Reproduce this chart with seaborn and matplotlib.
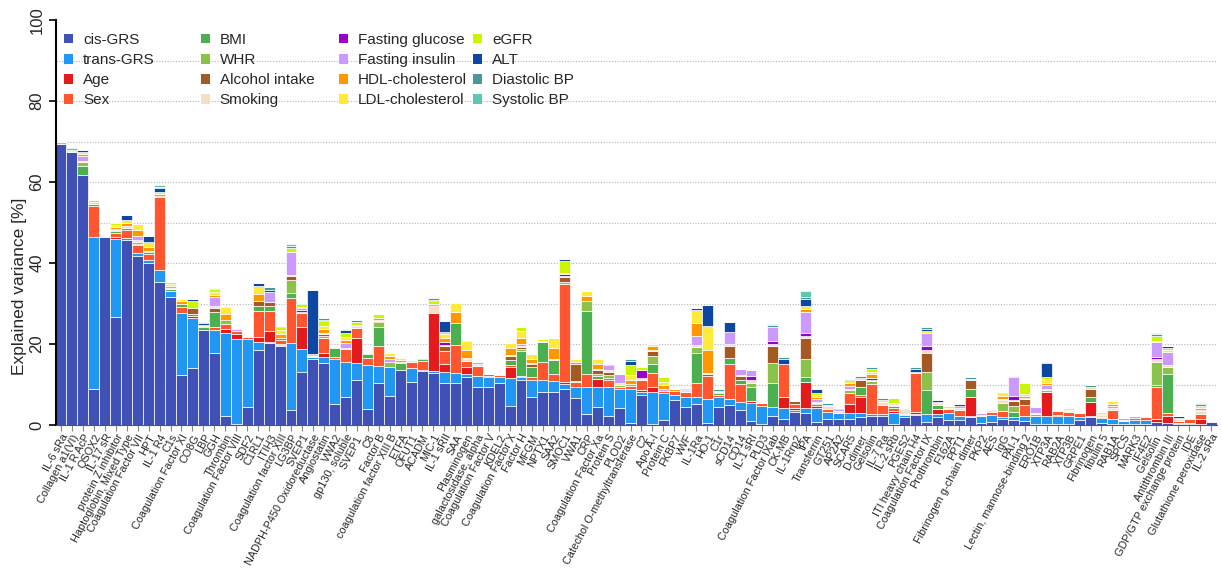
import numpy as np
import pandas as pd
import matplotlib
matplotlib.use("Agg")
import matplotlib.pyplot as plt
from matplotlib.patches import Patch
import seaborn as sns

# Proteins in plotting order
proteins = [
    "IL-6 sRa", "Collagen a1(VI)", "IL-1 R AcP", "QSOX2", "IL-17 sR",
    "protein Z inhibitor", "Haptoglobin, Mixed Type", "Coagulation Factor VII", "HPT", "IL-1 R4",
    "C1s", "Coagulation Factor XI", "CO8G", "LBP", "GGH",
    "Thrombin", "Coagulation Factor VIII", "SDF2", "C1RL1", "ITIH3",
    "Coagulation factor XIII", "LG3BP", "SVEP1", "NADPH-P450 Oxidoreductase", "Angiostatin",
    "VWA2", "gp130, soluble", "SVEP1 ", "C8", "Factor B",
    "coagulation factor XIII B", "ETFA", "OFUT1", "ACADM", "MIC-1",
    "IL-1 sRII", "SAA", "Plasminogen", "galactosidase, alpha", "Coagulation Factor V",
    "KDEL2", "Coagulation Factor X", "Factor H", "MFGM", "NPTX1",
    "SAA2", "SMOC1", "VWA1", "CRP", "Coagulation Factor Xa",
    "Protein S", "PLOD2", "Catechol O-methyltransferase", "C2", "Apo A-I",
    "Protein C", "FKBP7", "vWF", "IL-1Ra", "HO-1",
    "C1r", "sCD14", "CD14", "IL-1 sRI", "PLD3",
    "Coagulation Factor IXab", "CK-MB", "IL-1Rrp2", "tPA", "Transferrin",
    "GT251", "AP2A2", "SCAR5", "D-dimer", "Gelsolin",
    "IL-7 Ra", "IL-2 sRb", "PGES2", "ITI heavy chain H4", "Coagulation Factor IX",
    "Prothrombin", "F162A", "PPT1", "Fibrinogen g-chain dimer", "PKP2",
    "AES", "IgG", "PAI-1", "Lectin, mannose-binding 2", "ERO1B",
    "XTP3A", "RAB2A", "XTP3B", "GRPE1", "Fibrinogen",
    "fibulin 5", "RAB1A", "SPCS", "MARK3", "IF4E2",
    "Gelsolin ", "Antithrombin III", "GDP/GTP exchange protein", "IDE", "Glutathione peroxidase",
    "IL-2 sRa",
]

# Explained variance [%] per component, one value per protein
cis_grs = [
    69.5, 67.4, 61.7, 8.8, 46.3, 26.7, 45.7, 41.7, 40.1, 35.4,
    31.5, 12.3, 14.0, 23.5, 17.9, 2.3, 0.3, 4.5, 18.5, 20.3,
    19.5, 3.6, 13.2, 16.2, 15.4, 5.3, 7.0, 11.1, 3.9, 10.3,
    7.2, 13.7, 10.7, 13.4, 12.9, 10.4, 10.3, 11.9, 9.3, 9.5,
    10.4, 4.7, 11.1, 6.8, 8.2, 8.2, 8.8, 6.6, 2.7, 4.4,
    2.2, 4.1, 0.4, 7.4, 0.3, 1.2, 6.2, 4.4, 5.2, 0.4,
    4.5, 4.9, 3.7, 1.1, 0.3, 2.2, 1.6, 3.3, 3.0, 0.8,
    1.4, 1.6, 1.6, 1.9, 2.1, 2.2, 0.3, 1.9, 2.5, 0.8,
    1.9, 1.3, 1.2, 2.0, 0.6, 0.7, 1.6, 1.2, 1.1, 0.3,
    0.3, 0.3, 0.3, 1.2, 1.9, 0.6, 0.3, 0.3, 0.3, 0.3,
    0.8, 0.6, 0.3, 0.3, 0.2, 0.8,
]
trans_grs = [
    0, 0, 0, 37.7, 0, 19.3, 0.5, 0.8, 0.6, 2.9,
    1.7, 15.4, 12.3, 0, 5.5, 20.5, 20.9, 16.7, 2.1, 0.2,
    0.3, 16.7, 5.5, 0.6, 1.3, 10.9, 8.6, 4.3, 10.9, 4.3,
    7.2, 0, 3.3, 0, 0.5, 2.7, 2.5, 0.8, 2.8, 2.3,
    1.5, 6.8, 0.8, 4.4, 2.9, 2.7, 1.3, 2.9, 6.8, 4.9,
    7.1, 4.7, 8.4, 0.8, 7.9, 6.6, 1.2, 2.6, 1.6, 5.9,
    2.3, 1.4, 2.1, 4.4, 4.4, 2.3, 2.7, 0.5, 1.1, 3.5,
    1.9, 1.4, 1.4, 1.0, 0.6, 0.5, 2.6, 0.6, 0.3, 1.9,
    0.8, 1.6, 1.0, 0.3, 1.6, 1.8, 0.4, 0.8, 1.1, 1.9,
    1.8, 1.8, 1.8, 0.7, 0.3, 1.1, 1.1, 0.6, 1.0, 1.0,
    0, 0, 0.3, 0.3, 0, 0,
]
age = [
    0, 0, 0, 0, 0, 0.3, 0, 0, 0, 0,
    0, 0, 0.5, 0, 0, 0.8, 1.3, 0, 1.1, 2.8,
    0.3, 0, 5.4, 0, 1.0, 0, 0, 6.0, 0, 0,
    0, 0, 0, 0.3, 14.2, 1.9, 0, 1.5, 0, 0.3,
    0, 2.9, 0.3, 0, 0, 0, 0.6, 0, 0, 2.1,
    0, 0, 0, 0.4, 1.2, 0, 0, 0, 0, 0,
    0, 0, 0, 0.4, 0, 0, 2.6, 0.3, 6.6, 0.5,
    0, 0, 2.2, 4.1, 0, 0, 0.5, 0, 0.5, 0,
    1.2, 0, 0, 4.5, 0, 0, 0, 0, 0, 0,
    6.0, 0.4, 0, 0, 3.5, 0, 0, 0, 0, 0,
    0.8, 1.6, 0, 0, 1.4, 0,
]
sex = [
    0, 0, 0, 7.6, 0, 1.2, 1.9, 1.9, 1.5, 17.9,
    0, 1.5, 0, 0, 0.8, 1.3, 0.6, 0.5, 6.5, 4.8,
    0.9, 11.0, 3.6, 0, 3.7, 0.6, 3.1, 2.5, 1.7, 5.0,
    0, 0, 1.6, 2.0, 0, 3.3, 7.0, 1.6, 2.5, 0.5,
    0.5, 0.4, 0, 0.7, 4.5, 1.8, 24.1, 1.0, 3.1, 0,
    1.8, 0.6, 0.8, 2.6, 3.5, 0.5, 1.0, 1.2, 3.5, 5.8,
    0.5, 8.8, 4.3, 0, 0.8, 0, 8.1, 1.0, 0, 0.3,
    0.6, 0, 2.6, 0.3, 7.4, 2.2, 0.8, 0.3, 9.6, 0,
    0, 1.0, 1.6, 0, 0, 0.8, 1.5, 0, 2.7, 0,
    0, 1.0, 1.0, 1.0, 0, 0.3, 2.3, 0, 0.4, 0.7,
    7.7, 0.7, 0.4, 0.8, 1.1, 0,
]
bmi = [
    0, 0, 2.3, 0.4, 0, 0.4, 0.6, 0.4, 0.5, 0,
    0.4, 0.8, 0.6, 0.6, 3.7, 0, 0, 0, 1.2, 1.2,
    0.6, 1.3, 0, 0, 0, 2.1, 0, 0, 1.1, 4.7,
    0, 1.6, 0, 0.5, 0, 0, 5.3, 0, 0, 0,
    0, 1.2, 6.0, 2.3, 4.8, 3.3, 0, 0, 15.6, 0.6,
    0.5, 0, 0, 0, 2.1, 0, 0, 0, 7.4, 0,
    0.5, 1.4, 1.1, 3.5, 0, 5.9, 0, 0, 1.2, 0.4,
    0, 0, 0, 2.1, 0, 0, 0.5, 0, 0, 5.9,
    1.0, 0, 0, 2.1, 0, 0, 0, 1.2, 0, 0,
    0, 0, 0, 0, 1.2, 0, 0, 0, 0, 0,
    0.5, 9.7, 0, 0, 0, 0,
]
whr = [
    0, 0, 1.0, 0, 0, 0.3, 0, 0.5, 0.3, 0,
    0, 0, 0, 0.4, 0, 1.0, 0, 0, 0, 0,
    0, 3.3, 0, 0, 0.6, 0.3, 0, 0, 0.3, 1.2,
    1.2, 0.3, 0, 0, 0, 0, 0, 0, 0, 0,
    0, 0, 0.6, 0, 0, 0, 0.6, 0.4, 2.5, 0.6,
    0.7, 0.6, 0.5, 0, 2.0, 0, 0, 0, 1.6, 0,
    0.4, 0, 0, 1.0, 0, 4.8, 0, 0, 4.5, 0,
    0, 0, 0.8, 0, 0.8, 0, 0.3, 0, 0, 4.5,
    0, 0, 0, 0, 0, 0, 2.0, 1.4, 0, 0.4,
    0.5, 0, 0, 0, 0, 0, 0, 0, 0, 0,
    5.8, 1.8, 0, 0, 0, 0,
]
alcohol = [
    0, 0, 0, 0, 0, 0, 0, 0, 0, 0,
    0, 0, 1.5, 0, 1.1, 0, 0, 0, 1.1, 1.1,
    0, 1.0, 0, 0, 0.5, 0, 0, 0, 0, 0.3,
    0, 0, 0, 0, 0, 1.2, 0, 0, 0, 0,
    0, 1.1, 0.4, 0.8, 0, 0, 1.1, 4.1, 0, 1.0,
    0.8, 0, 0, 0, 1.3, 0, 0, 0, 0, 0.4,
    0, 2.9, 0.8, 0, 0, 4.3, 0, 0.8, 5.2, 0,
    0, 0, 0, 1.6, 0, 0, 0, 0, 0, 4.7,
    0, 0, 0, 2.1, 0, 0, 0, 1.3, 1.4, 0,
    0, 0, 0, 0, 2.0, 0, 0, 0, 0, 0,
    0, 0, 0, 0, 0, 0,
]
smoking = [
    0, 0.3, 0.2, 0, 0, 0, 0.4, 0.3, 0, 0.4,
    0.3, 0, 0, 0, 0.4, 0, 0, 0, 0, 0,
    0, 0.2, 0.3, 0, 0.3, 0, 0.3, 0.3, 0, 0.2,
    0, 0, 0.2, 0, 1.5, 0.2, 0, 0.4, 0.4, 0,
    0.3, 0.2, 0.3, 0.2, 0.3, 0.4, 0.4, 0, 0, 0.3,
    0.4, 0.3, 0, 0.3, 0.3, 0.2, 0, 0.4, 0.3, 0.3,
    0.2, 0.3, 0.4, 0.6, 0.2, 0.5, 0, 0, 0.4, 0.3,
    0.8, 0.5, 0.3, 0.5, 0.3, 0.8, 0.5, 1.2, 0.3, 0.6,
    0.5, 0.3, 0.4, 0, 0.2, 0.3, 0.6, 0.2, 0.3, 0.4,
    0.4, 0.2, 0.3, 0.2, 0.5, 0.4, 0.4, 0.3, 0, 0.3,
    0.7, 0.4, 0.5, 0.2, 0.8, 0,
]
fasting_glucose = [
    0, 0, 0, 0, 0, 0, 0, 0, 0, 0,
    0, 0, 0, 0, 0, 0, 0, 0, 0, 0,
    0, 0, 0.3, 0, 0, 0, 0, 0.3, 0, 0,
    0, 0, 0, 0, 0.3, 0.8, 0, 0, 0, 0,
    0, 0, 0, 0, 0, 0, 0.3, 0, 0, 0,
    0, 0, 0, 2.1, 0, 0, 0, 0, 0.2, 0,
    0, 0.4, 0, 1.1, 0, 0.8, 0, 0, 0.8, 0,
    0, 0, 0, 0, 0.5, 0, 0, 0, 0, 1.1,
    0, 0, 0, 0, 0, 0, 0, 1.0, 0, 0,
    0, 0, 0, 0, 0, 0, 0, 0, 0, 0,
    0.4, 0, 0, 0, 0, 0,
]
fasting_insulin = [
    0.3, 0, 1.3, 0, 0.4, 0.3, 0, 1.1, 0, 0,
    0.3, 0, 0, 0, 2.2, 0, 0.5, 0, 0, 2.5,
    0, 5.6, 0.5, 0, 0, 0, 1.2, 0.3, 0, 0,
    0.8, 0, 0, 0, 0.6, 0, 0, 0.3, 0.6, 0,
    0, 0, 0.5, 0, 0, 0, 0.4, 0, 0, 0,
    1.2, 2.2, 0, 0, 0, 0.5, 0, 0, 2.1, 0,
    0, 2.9, 1.5, 1.6, 0, 3.5, 0, 0, 5.1, 0.7,
    0.3, 0.5, 0.8, 0, 0, 0, 0, 0, 0, 3.3,
    0.3, 0, 0.6, 0.4, 0.6, 0.3, 0.3, 4.8, 0, 1.4,
    0.8, 0, 0.4, 0, 0, 0, 0.6, 0.6, 0.5, 0,
    3.7, 3.3, 0.3, 0, 0.3, 0.2,
]
hdl_cholesterol = [
    0, 0, 0.4, 0, 0, 0.4, 0.8, 1.5, 1.0, 0.4,
    0, 0.6, 0, 0.3, 0.5, 1.6, 0, 0, 1.8, 0,
    0.8, 0, 0.3, 0, 0.8, 0, 0.8, 0, 0, 0.3,
    0.6, 0.5, 0, 0, 0, 1.1, 2.9, 2.0, 0, 0,
    0, 1.8, 1.6, 1.2, 0, 2.5, 0, 0.5, 1.2, 1.2,
    0, 0, 1.1, 0, 0.8, 0.8, 0.4, 0, 3.3, 5.8,
    0, 0, 0, 0, 0, 0, 0, 0, 0.8, 0.3,
    0, 0, 0.6, 0, 0.8, 0, 0, 0, 0, 0,
    0, 0, 0, 0, 0, 0, 0.7, 0, 0.5, 0,
    0.5, 0, 0, 0, 0, 0.4, 0.5, 0, 0, 0,
    0, 0, 0, 0, 0.5, 0,
]
ldl_cholesterol = [
    0, 0, 0.5, 0.5, 0, 0.4, 0.8, 1.5, 1.2, 0.6,
    0.5, 0.6, 0, 0, 0.7, 1.6, 0.3, 0, 2.0, 0,
    1.1, 0, 0, 0.3, 0.8, 0, 0.8, 0, 0, 0,
    0.7, 0.5, 0, 0, 0, 0.8, 2.1, 2.3, 0, 0,
    0, 1.2, 1.7, 1.1, 0, 2.6, 0, 0.7, 1.2, 1.2,
    0, 0, 1.2, 0, 0.6, 0.8, 0.4, 0, 3.3, 5.8,
    0, 0, 0, 0, 0, 0, 0, 0, 0.8, 0.7,
    0, 0, 0.8, 0, 0.6, 0.5, 0, 0, 0, 0.5,
    0, 0.4, 0, 0, 0, 0, 0.7, 0, 0.6, 0,
    1.0, 0, 0.3, 0, 0, 0.4, 0.7, 0, 0, 0,
    0.3, 0.4, 0, 0, 0.5, 0,
]
egfr = [
    0, 0, 0, 0.5, 0, 0.5, 0, 0, 0, 0,
    0.6, 0.2, 1.7, 0, 0.7, 0.3, 0, 0, 0, 0,
    0.6, 1.0, 0.8, 0.5, 1.2, 0, 0.8, 0.6, 0, 1.2,
    0, 0, 0, 0, 0.5, 0.6, 0, 0.3, 0, 0,
    0, 0, 1.0, 0, 0.5, 0, 2.9, 0, 0, 0,
    0, 0, 2.3, 0.6, 0, 1.2, 0, 0, 0, 0,
    0, 0, 0, 0, 0, 0, 0, 0, 0, 0.5,
    0, 0, 0, 0, 0.8, 0, 1.2, 0, 0, 0,
    0, 0, 0, 0, 0, 0, 0, 0, 2.6, 0,
    0.5, 0, 0, 0, 0, 0, 0, 0, 0, 0,
    1.2, 0.5, 0, 0, 0, 0,
]
alt = [
    0, 0, 0.5, 0, 0, 0, 1.1, 0, 1.5, 0.8,
    0, 0, 0.5, 0.5, 0, 0, 0, 0, 0.7, 0.5,
    0.3, 0, 0, 15.7, 0.4, 0, 0.8, 0, 0, 0,
    0, 0, 0.2, 0.3, 0.3, 2.7, 0, 0, 0, 0,
    0, 0, 0, 0, 0, 0, 0.6, 0, 0, 0,
    0.3, 0, 1.2, 0, 0, 0, 0, 0.4, 0.4, 5.2,
    0, 2.5, 0, 0, 0, 0, 1.4, 0, 1.6, 1.0,
    0, 0.3, 0.3, 0, 0, 0, 0, 0, 0.6, 0.4,
    0.5, 0, 0.4, 0, 0, 0, 0.4, 0, 0, 0,
    3.5, 0, 0, 0, 0, 0, 0, 0, 0, 0,
    0, 0.4, 0.3, 0, 0, 0,
]
diastolic_bp = [
    0, 0.2, 0, 0, 0, 0, 0, 0, 0, 0.3,
    0, 0, 0, 0.2, 0.3, 0, 0, 0, 0, 0.6,
    0, 0.4, 0.3, 0, 0.4, 0, 0.4, 0.6, 0, 0,
    0, 0, 0, 0, 0.5, 0, 0, 0, 0, 0,
    0, 0, 0, 0, 0, 0, 0, 0, 0, 0,
    0, 0, 0.3, 0, 0, 0, 0, 0.2, 0, 0,
    0.4, 0, 0, 0, 0, 0.4, 0.4, 0, 0.4, 0,
    0.4, 0, 0, 0.5, 0.4, 0.5, 0, 0.3, 0.5, 0.5,
    0, 0, 0, 0.5, 0, 0, 0, 0.3, 0, 0,
    0.3, 0, 0, 0, 0.6, 0, 0, 0, 0, 0,
    0.5, 0, 0, 0, 0.3, 0,
]
systolic_bp = [
    0, 0.4, 0, 0, 0, 0, 0, 0, 0, 0.5,
    0, 0, 0, 0, 0, 0, 0, 0, 0, 0,
    0, 0.5, 0, 0, 0, 0, 0, 0, 0, 0,
    0, 0, 0, 0, 0, 0, 0, 0, 0, 0,
    0, 0, 0, 0, 0, 0, 0, 0, 0, 0,
    0, 0, 0, 0, 0, 0, 0, 0, 0, 0,
    0, 0, 0, 0, 0, 0.3, 0, 0, 1.5, 0,
    0, 0, 0, 0, 0, 0, 0, 0, 0, 0,
    0, 0, 0, 0, 0, 0, 0, 0, 0, 0,
    0, 0, 0, 0, 0, 0, 0, 0, 0, 0,
    0.4, 0, 0, 0, 0.3, 0,
]

components = [
    "cis-GRS", "trans-GRS", "Age", "Sex",
    "BMI", "WHR", "Alcohol intake", "Smoking",
    "Fasting glucose", "Fasting insulin", "HDL-cholesterol", "LDL-cholesterol",
    "eGFR", "ALT", "Diastolic BP", "Systolic BP",
]
series = [
    cis_grs, trans_grs, age, sex,
    bmi, whr, alcohol, smoking,
    fasting_glucose, fasting_insulin, hdl_cholesterol, ldl_cholesterol,
    egfr, alt, diastolic_bp, systolic_bp,
]
colors = [
    "#3F51B5", "#2196F3", "#E41A1C", "#FF5630",
    "#4CAF50", "#8BC34A", "#A65A23", "#F4DFC6",
    "#9900CC", "#CC99FF", "#FF9800", "#FFE93B",
    "#CCF500", "#0D47A1", "#45999A", "#5DC8B0",
]
palette = dict(zip(components, colors))

positions = np.arange(len(proteins))
long_df = pd.concat(
    [pd.DataFrame({"position": positions, "component": name, "variance": vals})
     for name, vals in zip(components, series)],
    ignore_index=True,
)

sns.set_theme(style="white")
plt.rcParams["font.family"] = ["Liberation Sans", "DejaVu Sans"]

fig = plt.figure(figsize=(12.22, 5.69), dpi=100)
ax = fig.add_axes([55.5 / 1222, 1 - 425 / 569, 1161 / 1222, 405 / 569])

# seaborn stacks the first hue level on top, so feed the order reversed
sns.histplot(
    data=long_df, x="position", weights="variance", hue="component",
    hue_order=components[::-1], palette=palette, multiple="stack",
    discrete=True, shrink=1, alpha=1, edgecolor="white", linewidth=0.5,
    legend=False, ax=ax,
)

for level in range(10, 100, 10):
    ax.axhline(level, color="#b5b5b5", linestyle=(0, (1, 1.5)), linewidth=0.8, zorder=0)
ax.set_axisbelow(True)

ax.set_xlim(-0.5, len(proteins) - 0.5)
ax.set_ylim(0, 100)
ax.set_xticks(positions)
ax.set_xticklabels(proteins, rotation=62, ha="right", rotation_mode="anchor", fontsize=7.8)
ax.set_yticks(np.arange(0, 101, 20))
ax.set_yticklabels([str(v) for v in range(0, 101, 20)], rotation=90, va="center", fontsize=12)
ax.tick_params(axis="x", bottom=True, length=4, width=0.8, color="#888888", pad=1.5)
ax.tick_params(axis="y", left=True, length=5, width=1.2, color="black", pad=3)
ax.set_xlabel("")
ax.set_ylabel("Explained variance [%]", fontsize=12.5)
ax.yaxis.set_label_coords(-0.0245, 0.343)

for side in ("top", "right"):
    ax.spines[side].set_visible(False)
ax.spines["left"].set_color("black")
ax.spines["left"].set_linewidth(1.5)
ax.spines["bottom"].set_color("#555555")
ax.spines["bottom"].set_linewidth(0.8)

# Four legend columns with a fixed pitch
column_x = [0.0075, 0.125, 0.2441, 0.3596]
for col, x0 in enumerate(column_x):
    names = components[col * 4:(col + 1) * 4]
    handles = [Patch(facecolor=palette[n], edgecolor="none", label=n) for n in names]
    leg = ax.legend(
        handles=handles, loc="upper left", bbox_to_anchor=(x0, 0.968),
        frameon=False, fontsize=11, handlelength=0.6, handleheight=0.6,
        handletextpad=0.65, labelspacing=0.4, borderpad=0, borderaxespad=0,
    )
    if col < len(column_x) - 1:
        ax.add_artist(leg)

fig.savefig("out.png", dpi=100)
